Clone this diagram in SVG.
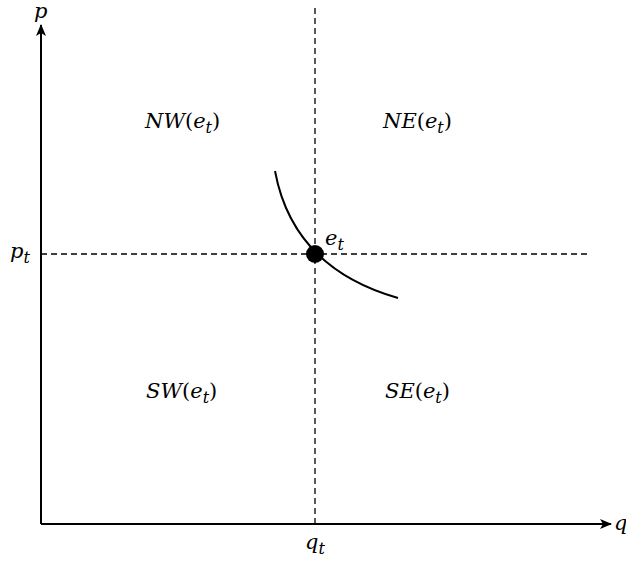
<svg xmlns="http://www.w3.org/2000/svg" width="626" height="562" viewBox="0 0 626 562">
<style>
.ax{stroke:#000;stroke-width:2;fill:none}
.dash{stroke:#000;stroke-width:1.3;stroke-dasharray:6,4;fill:none}
.t{font-family:"DejaVu Serif","Liberation Serif",serif;font-size:21px;font-style:italic;fill:#000}
.u{font-style:normal}
.s{font-size:16px}
</style>
<defs>
<marker id="arr" viewBox="0 0 12 10" refX="11" refY="5" markerWidth="12" markerHeight="10" markerUnits="userSpaceOnUse" orient="auto">
<path d="M0,0 L12,5 L0,10 L3,5 Z" fill="#000"/>
</marker>
</defs>
<g id="connectors">
<path class="dash" d="M315,8 V524"/>
<path class="dash" d="M41,254 H588"/>
<path class="ax" d="M41,524 V25" marker-end="url(#arr)"/>
<path class="ax" d="M41,524 H611" marker-end="url(#arr)"/>
<path class="ax" d="M275,171 Q293,268 398,298"/>
</g>
<g id="equilibrium">
<circle cx="315" cy="254" r="9" fill="#000"/>
<text class="t" x="325" y="245">e<tspan class="s" dy="5">t</tspan></text>
</g>
<g id="labels">
<text class="t" x="34" y="18">p</text>
<text class="t" x="614" y="530">q</text>
<text class="t" x="10" y="258">p<tspan class="s" dy="5">t</tspan></text>
<text class="t" x="305" y="549">q<tspan class="s" dy="5">t</tspan></text>
</g>
<g id="NW"><text class="t" x="145" y="128">NW<tspan class="u">(</tspan>e<tspan class="s" dy="5">t</tspan><tspan class="u" dy="-5">)</tspan></text></g>
<g id="NE"><text class="t" x="383" y="128">NE<tspan class="u">(</tspan>e<tspan class="s" dy="5">t</tspan><tspan class="u" dy="-5">)</tspan></text></g>
<g id="SW"><text class="t" x="146" y="398">SW<tspan class="u">(</tspan>e<tspan class="s" dy="5">t</tspan><tspan class="u" dy="-5">)</tspan></text></g>
<g id="SE"><text class="t" x="385" y="398">SE<tspan class="u">(</tspan>e<tspan class="s" dy="5">t</tspan><tspan class="u" dy="-5">)</tspan></text></g>
</svg>
